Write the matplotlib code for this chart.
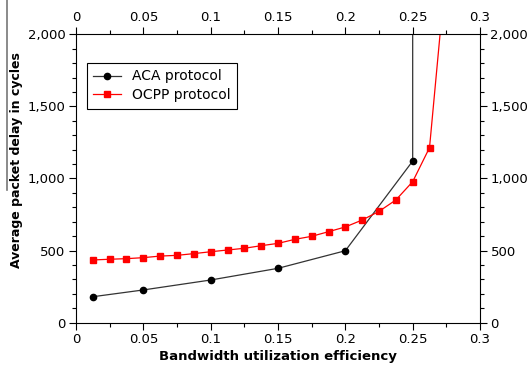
import matplotlib
matplotlib.use("Agg")
import matplotlib.pyplot as plt
from matplotlib.lines import Line2D
from matplotlib.ticker import MultipleLocator, FuncFormatter

# Average packet delay vs. bandwidth utilization
aca_x = [0.0125, 0.05, 0.1, 0.15, 0.2, 0.25, 0.25]
aca_y = [180, 227, 296, 377, 499, 1121, 10000]

ocpp_x = [0.0125, 0.025, 0.0375, 0.05, 0.0625, 0.075, 0.0875, 0.1, 0.1125,
          0.125, 0.1375, 0.15, 0.1625, 0.175, 0.1875, 0.2, 0.2125, 0.225,
          0.2375, 0.25, 0.2625, 0.275]
ocpp_y = [435, 440, 444, 451, 462, 467, 479, 492, 504, 516, 534, 550, 578,
          599, 631, 664, 712, 772, 851, 978, 1214, 2470]

x_ticks = [0, 0.05, 0.1, 0.15, 0.2, 0.25, 0.3]
x_tick_labels = ["0", "0.05", "0.1", "0.15", "0.2", "0.25", "0.3"]

fig = plt.figure(figsize=(5.31, 3.73), dpi=100)
ax = fig.add_axes([0.1431, 0.1349, 0.7609, 0.7731])

ax.plot(aca_x, aca_y, color="#333333", lw=0.9, marker="o", ms=4.5,
        mfc="black", mec="black", label="ACA protocol")
ax.plot(ocpp_x, ocpp_y, color="red", lw=0.9, marker="s", ms=4.5,
        mfc="red", mec="red", label="OCPP protocol")

ax.set_xlim(0, 0.3)
ax.set_ylim(0, 2000)

ax.set_xticks(x_ticks)
ax.set_xticklabels(x_tick_labels)
ax.xaxis.set_minor_locator(MultipleLocator(0.025))
ax.yaxis.set_major_locator(MultipleLocator(500))
ax.yaxis.set_minor_locator(MultipleLocator(100))
ax.yaxis.set_major_formatter(FuncFormatter(lambda v, p: f"{int(v):,}"))

ax.tick_params(which="both", direction="out", top=True, right=True,
               labeltop=True, labelright=True, labelsize=9.5)
ax.tick_params(which="major", length=5, width=0.8, pad=2.5)
ax.tick_params(which="minor", length=3, width=0.8)

ax.set_xlabel("Bandwidth utilization efficiency", fontweight="bold",
              fontsize=9.5, labelpad=3)
ax.set_ylabel("Average packet delay in cycles", fontweight="bold",
              fontsize=9)
ax.yaxis.set_label_coords(-0.131, 0.564)

leg = ax.legend(loc="upper left", bbox_to_anchor=(0.027, 0.9), fontsize=10,
                fancybox=False, edgecolor="black", framealpha=1,
                borderaxespad=0, handlelength=2.0, borderpad=0.45,
                labelspacing=0.35)
leg.get_frame().set_linewidth(0.8)

# thin grey rule at the left edge of the page
fig.add_artist(Line2D([7 / 531, 7 / 531], [1.0, 1 - 190 / 373],
                      transform=fig.transFigure, color="#777777", lw=1.2))

fig.savefig("out.png", dpi=100)
